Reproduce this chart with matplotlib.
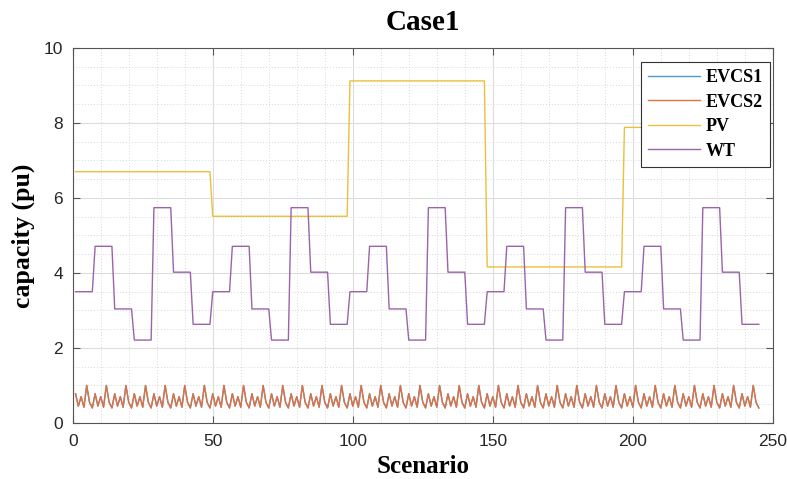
import numpy as np
import matplotlib
matplotlib.use("Agg")
import matplotlib.pyplot as plt
from matplotlib.ticker import MultipleLocator

# ---- data ----
pv_levels = [6.70, 5.51, 9.12, 4.16, 7.88]                    # one level per block of 49 scenarios
wt_levels = [3.50, 4.71, 3.04, 2.21, 5.74, 4.02, 2.63]        # one level per 7 scenarios, repeating
evcs_pattern = [0.78, 0.45, 0.70, 0.42, 1.00, 0.55, 0.40]     # one value per scenario, repeating every 7
n_blocks_pv = 5
n_rep_wt = 7
n_scen = 245
series_names = ["EVCS1", "EVCS2", "PV", "WT"]
colors = ["#4f9bd0", "#e07040", "#ecbf3c", "#9a64a8"]

scenario = np.arange(1, n_scen + 1)
pv = np.repeat(pv_levels, n_scen // n_blocks_pv)
wt = np.tile(np.repeat(wt_levels, n_rep_wt), n_scen // (len(wt_levels) * n_rep_wt))
evcs2 = np.tile(evcs_pattern, n_scen // len(evcs_pattern))
evcs1 = evcs2.copy()

# ---- figure ----
fig = plt.figure(figsize=(7.87, 4.79), dpi=100)
ax = fig.add_axes([0.0924, 0.117, 0.8896, 0.783])

serif = ["Liberation Serif", "DejaVu Serif"]
sans = ["Liberation Sans", "DejaVu Sans"]

for y, name, c in zip([evcs1, evcs2, pv, wt], series_names, colors):
    ax.plot(scenario, y, color=c, lw=1.0, label=name)

ax.set_xlim(0, 250)
ax.set_ylim(0, 10)
ax.xaxis.set_major_locator(MultipleLocator(50))
ax.xaxis.set_minor_locator(MultipleLocator(10))
ax.yaxis.set_major_locator(MultipleLocator(2))
ax.yaxis.set_minor_locator(MultipleLocator(0.5))

ax.grid(True, which="major", color="#dcdcdc", lw=0.8, ls="-")
ax.grid(True, which="minor", color="#d8d8d8", lw=0.7, ls=(0, (1, 2)))
ax.set_axisbelow(True)

for s in ax.spines.values():
    s.set_color("#555555")
    s.set_linewidth(0.8)

ax.tick_params(which="major", direction="in", length=5, width=0.8, color="#555555",
               top=True, right=True, labelsize=12.5, labelcolor="#262626")
ax.tick_params(axis="x", which="major", pad=8)
ax.tick_params(axis="y", which="major", pad=7)
ax.tick_params(which="minor", length=0, top=True, right=True)
for lab in ax.get_xticklabels() + ax.get_yticklabels():
    lab.set_fontfamily(sans)

ax.set_title("Case1", fontsize=21, fontweight="bold", family=serif, pad=13)
ax.set_xlabel("Scenario", fontsize=18, fontweight="bold", family=serif, labelpad=4)
ax.set_ylabel("capacity (pu)", fontsize=18.5, fontweight="bold", family=serif, labelpad=6)

leg = ax.legend(loc="upper right", bbox_to_anchor=(0.9955, 0.962),
                prop={"family": serif, "weight": "bold", "size": 13},
                frameon=True, fancybox=False, edgecolor="#333333", framealpha=1,
                handlelength=2.9, handletextpad=0.3, labelspacing=0.42,
                borderpad=0.38, borderaxespad=0)
leg.get_frame().set_linewidth(0.8)

fig.savefig("out.png", dpi=100)
